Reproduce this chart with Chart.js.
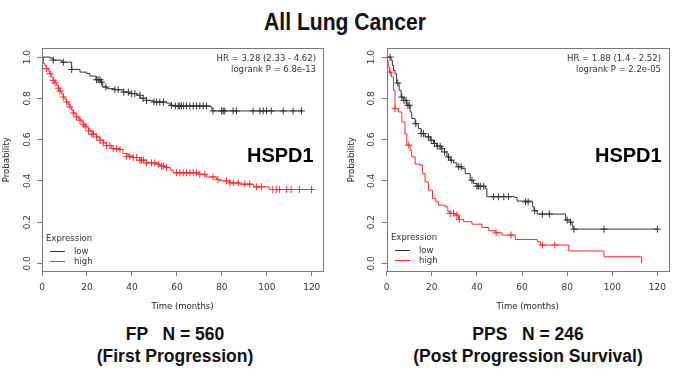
<!DOCTYPE html>
<html>
<head>
<meta charset="utf-8">
<script src="https://cdn.jsdelivr.net/npm/chart.js@4.4.1/dist/chart.umd.min.js"></script>
<style>
  html, body { margin: 0; padding: 0; background: #fff; }
  #page { position: relative; width: 690px; height: 380px; overflow: hidden; font-family: "DejaVu Sans", sans-serif; color: #222; }
  .panel { position: absolute; top: 40px; height: 280px; }
  .c { position: absolute; white-space: pre; line-height: 1; transform: translate(-50%, -50%); }
  .l { position: absolute; white-space: pre; line-height: 1; transform: translate(0, -50%); }
  .r { position: absolute; white-space: pre; line-height: 11px; text-align: right; font-size: 8.5px; color: #333; }
  .big { font-family: "Liberation Sans", Arial, sans-serif; font-weight: bold; font-size: 17.5px; color: #111; }
  .gene { font-family: "Liberation Sans", Arial, sans-serif; font-weight: bold; font-size: 20px; color: #000; }
  .leg { font-size: 8.5px; color: #333; }
</style>
</head>
<body>
<div id="page">
  <div class="c" style="left:345px;top:22px;font-family:'Liberation Sans',sans-serif;font-weight:bold;font-size:24px;color:#111;transform:translate(-50%,-50%) scaleX(0.88);">All Lung Cancer</div>

  <div class="panel" style="left:0;width:340px;"><canvas id="fp" width="340" height="280"></canvas></div>
  <div class="panel" style="left:345px;width:345px;"><canvas id="pps" width="345" height="280"></canvas></div>

  <div class="r" style="right:374px;top:53px;">HR = 3.28 (2.33 - 4.62)
logrank P = 6.8e-13</div>
  <div class="r" style="right:29px;top:53px;">HR = 1.88 (1.4 - 2.52)
logrank P = 2.2e-05</div>

  <div class="l gene" style="left:247px;top:155px;">HSPD1</div>
  <div class="l gene" style="left:595px;top:155px;">HSPD1</div>

  <div class="l leg" style="left:46px;top:238px;">Expression</div>
  <div class="l leg" style="left:74px;top:251px;">low</div>
  <div class="l leg" style="left:74px;top:261px;">high</div>

  <div class="l leg" style="left:391px;top:237px;">Expression</div>
  <div class="l leg" style="left:419px;top:250px;">low</div>
  <div class="l leg" style="left:419px;top:260px;">high</div>

  <div class="c big" style="left:175px;top:335px;">FP   N = 560</div>
  <div class="c big" style="left:175px;top:357px;">(First Progression)</div>
  <div class="c big" style="left:528px;top:335px;">PPS   N = 246</div>
  <div class="c big" style="left:528px;top:357px;">(Post Progression Survival)</div>
</div>

<script>
const xTicks = [0, 20, 40, 60, 80, 100, 120];
const yTicks = [0, 0.2, 0.4, 0.6, 0.8, 1.0];

// FP, low expression (Kaplan-Meier knots: time, survival after the step)
const fpLowTime = [0, 3.6, 5, 8.9, 13.2, 16.9, 19.9, 21.3, 24, 26, 27, 29, 32.4, 36, 39, 42, 43.6, 46.5, 49.5, 55.4, 57, 58.4, 75, 75.6, 116];
const fpLowSurv = [1.0, 0.995, 0.985, 0.975, 0.94, 0.927, 0.92, 0.908, 0.89, 0.879, 0.855, 0.847, 0.842, 0.83, 0.823, 0.815, 0.8, 0.79, 0.782, 0.777, 0.766, 0.763, 0.758, 0.739, 0.739];
const fpLowCensTime = [5, 9.5, 13.2, 24.3, 25, 25.8, 26.5, 28.4, 32.4, 33.9, 36.4, 38.4, 39.9, 41.3, 43.6, 45, 46.5, 49.8, 51, 52.4, 54, 57.6, 59.3, 60.6, 61.3, 62, 63, 64.3, 65.8, 67.3, 68.7, 70.2, 71.7, 73.2, 76.1, 79.9, 80.6, 81.3, 85, 86.5, 93.9, 96.9, 98.4, 99.9, 102, 107.3, 111.7, 115.4];
const fpLowCensSurv = [0.985, 0.975, 0.94, 0.89, 0.89, 0.89, 0.879, 0.855, 0.842, 0.842, 0.83, 0.83, 0.823, 0.823, 0.815, 0.8, 0.79, 0.782, 0.782, 0.782, 0.782, 0.766, 0.763, 0.763, 0.763, 0.763, 0.763, 0.763, 0.763, 0.763, 0.763, 0.763, 0.763, 0.763, 0.739, 0.739, 0.739, 0.739, 0.739, 0.739, 0.739, 0.739, 0.739, 0.739, 0.739, 0.739, 0.739, 0.739];

// FP, high expression
const fpHighTime = [0, 0.6, 1.3, 2, 2.8, 3.6, 4.3, 5, 5.8, 6.5, 7.3, 8, 8.8, 9.5, 10.3, 11, 11.7, 12.4, 13.2, 13.9, 14.7, 15.4, 16.2, 16.9, 17.7, 18.4, 19.2, 19.9, 21.3, 22.8, 24.3, 25.8, 27.3, 28.7, 31, 34.7, 36, 38.4, 40.6, 43.6, 46.5, 51, 52.4, 55.4, 57, 58.4, 70, 73, 77.6, 79, 83.6, 88, 94, 101, 120.6];
const fpHighSurv = [1.0, 0.968, 0.956, 0.944, 0.932, 0.919, 0.903, 0.887, 0.875, 0.863, 0.849, 0.835, 0.82, 0.806, 0.794, 0.782, 0.77, 0.758, 0.743, 0.729, 0.72, 0.71, 0.702, 0.694, 0.684, 0.674, 0.665, 0.656, 0.642, 0.626, 0.613, 0.597, 0.584, 0.571, 0.556, 0.552, 0.532, 0.519, 0.513, 0.5, 0.487, 0.48, 0.471, 0.465, 0.452, 0.439, 0.432, 0.419, 0.406, 0.4, 0.39, 0.384, 0.371, 0.358, 0.358];
const fpHighCensTime = [2, 3.6, 5, 5.8, 7.3, 8, 9.5, 11, 12.4, 13.9, 15.4, 16.9, 18.4, 19.2, 20.7, 22.2, 22.8, 24.3, 25.8, 27.3, 28.7, 30.2, 31.7, 33.2, 34.7, 37.7, 39.1, 40.6, 42.1, 43.6, 44.3, 45.1, 46.5, 48.7, 50.2, 51.7, 53.2, 54, 55.4, 59.8, 61.3, 62.8, 64.3, 65.8, 67.3, 68.7, 70.2, 72.4, 76.1, 78.3, 82.1, 83.6, 85.1, 87.3, 90.2, 92.4, 95.4, 97.6, 102.7, 104.2, 105.7, 108.7, 110.8, 114.5, 119.9];
const fpHighCensSurv = [0.944, 0.919, 0.887, 0.875, 0.849, 0.835, 0.806, 0.782, 0.758, 0.729, 0.71, 0.694, 0.674, 0.665, 0.642, 0.626, 0.626, 0.613, 0.597, 0.584, 0.571, 0.571, 0.556, 0.556, 0.552, 0.519, 0.519, 0.513, 0.513, 0.5, 0.5, 0.5, 0.487, 0.487, 0.487, 0.48, 0.471, 0.471, 0.465, 0.439, 0.439, 0.439, 0.439, 0.439, 0.439, 0.439, 0.432, 0.432, 0.419, 0.406, 0.4, 0.39, 0.39, 0.39, 0.384, 0.384, 0.371, 0.371, 0.358, 0.358, 0.358, 0.358, 0.358, 0.358, 0.358];

// PPS, low expression
const ppsLowTime = [0, 1.9, 2.5, 3, 3.7, 4.4, 5.5, 6.4, 7.4, 8.9, 10.4, 11.1, 12.6, 14, 15.3, 17, 19.3, 20.7, 22.2, 24.4, 25.6, 26.7, 28.1, 29.6, 31.1, 33.3, 34.8, 37, 38.5, 40, 43.7, 44.4, 57, 57.8, 64.4, 64.7, 65.3, 66.7, 79.3, 81.5, 82.2, 82.5, 120];
const ppsLowSurv = [1.0, 0.984, 0.96, 0.935, 0.919, 0.874, 0.839, 0.806, 0.79, 0.766, 0.734, 0.702, 0.677, 0.653, 0.629, 0.613, 0.597, 0.581, 0.568, 0.556, 0.54, 0.516, 0.5, 0.487, 0.468, 0.46, 0.435, 0.403, 0.387, 0.374, 0.363, 0.323, 0.319, 0.302, 0.298, 0.274, 0.255, 0.239, 0.21, 0.2, 0.185, 0.166, 0.166];
const ppsLowCensTime = [1.5, 4.9, 6.7, 7.7, 8.6, 9.4, 10, 12.9, 15.3, 16.3, 18.5, 19.7, 21.2, 22.4, 23.7, 24.4, 25.6, 27.4, 28.6, 31.9, 33, 37.8, 40, 40.7, 41.5, 43, 47.4, 49.6, 51.9, 54, 61.5, 62.7, 65.6, 69, 72.1, 80, 81.5, 83, 96.3, 120];
const ppsLowCensSurv = [1.0, 0.874, 0.806, 0.79, 0.79, 0.766, 0.766, 0.677, 0.629, 0.629, 0.613, 0.597, 0.581, 0.568, 0.568, 0.556, 0.54, 0.516, 0.5, 0.468, 0.468, 0.403, 0.374, 0.374, 0.374, 0.374, 0.323, 0.323, 0.323, 0.323, 0.298, 0.298, 0.255, 0.239, 0.239, 0.21, 0.2, 0.166, 0.166, 0.166];

// PPS, high expression
const ppsHighTime = [0, 0.3, 0.7, 1.2, 2.2, 3, 3.7, 5.2, 6.7, 8.1, 8.9, 10.4, 11.1, 12.6, 14.8, 15.9, 17, 18.5, 20.3, 21.8, 23, 25.9, 27.1, 28.6, 30.4, 31.9, 34.1, 37.8, 42.2, 45.2, 48.1, 51.1, 57, 66.7, 68.1, 80.7, 96.3, 113];
const ppsHighSurv = [1.0, 0.984, 0.952, 0.927, 0.903, 0.839, 0.75, 0.734, 0.685, 0.629, 0.573, 0.548, 0.516, 0.481, 0.476, 0.435, 0.395, 0.355, 0.315, 0.298, 0.282, 0.274, 0.25, 0.242, 0.234, 0.213, 0.202, 0.19, 0.174, 0.158, 0.148, 0.137, 0.116, 0.105, 0.089, 0.06, 0.032, 0.0];
const ppsHighCensTime = [1.5, 3.7, 9.8, 28.1, 29.6, 31.1, 32.2, 48.5, 55.1, 69, 74.5];
const ppsHighCensSurv = [0.927, 0.75, 0.573, 0.242, 0.242, 0.234, 0.213, 0.148, 0.137, 0.089, 0.089];

const LOW_COLOR = '#333333';
const HIGH_COLOR = '#ff2a2a';
const SMALL_FONT = { family: 'DejaVu Sans', size: 8.5 };

function pts(xs, ys) {
  return xs.map((x, i) => ({ x, y: ys[i] }));
}

// R-style frame, vertical y tick labels and legend line keys
const rStyle = {
  id: 'rStyle',
  afterDraw(chart, args, opts) {
    const { ctx, chartArea: a } = chart;
    const y = chart.scales.y;
    ctx.save();
    ctx.strokeStyle = '#777';
    ctx.lineWidth = 1;
    ctx.strokeRect(Math.round(a.left) + 0.5, Math.round(a.top) + 0.5, Math.round(a.right - a.left), Math.round(a.bottom - a.top));

    ctx.fillStyle = '#333';
    ctx.font = '9px "DejaVu Sans"';
    ctx.textAlign = 'center';
    ctx.textBaseline = 'middle';
    y.ticks.forEach(t => {
      ctx.save();
      ctx.translate(opts.labelX, y.getPixelForValue(t.value));
      ctx.rotate(-Math.PI / 2);
      ctx.fillText(t.value.toFixed(1), 0, 0);
      ctx.restore();
    });

    [LOW_COLOR, HIGH_COLOR].forEach((c, i) => {
      const ly = opts.keyY + i * 10 + 0.5;
      ctx.strokeStyle = c;
      ctx.beginPath();
      ctx.moveTo(opts.keyX, ly);
      ctx.lineTo(opts.keyX + 15, ly);
      ctx.stroke();
    });
    ctx.restore();
  }
};

function kmChart(id, d) {
  const curve = (data, color) => ({
    data, borderColor: color, borderWidth: 1, stepped: 'before',
    pointRadius: 0, fill: false,
  });
  const marks = (data, color) => ({
    data, borderColor: color, backgroundColor: color, borderWidth: 1, showLine: false,
    pointStyle: 'cross', pointRadius: 3.5, pointHoverRadius: 3.5,
  });

  return new Chart(document.getElementById(id), {
    type: 'line',
    data: {
      datasets: [
        curve(d.low, LOW_COLOR),
        marks(d.lowCens, LOW_COLOR),
        curve(d.high, HIGH_COLOR),
        marks(d.highCens, HIGH_COLOR),
      ]
    },
    plugins: [rStyle],
    options: {
      responsive: false, animation: false, devicePixelRatio: 1,
      layout: { padding: { left: 0, top: d.top, right: d.right, bottom: 0 } },
      plugins: {
        legend: { display: false }, tooltip: { enabled: false },
        rStyle: { labelX: d.labelX, keyX: 50, keyY: d.keyY },
      },
      scales: {
        x: {
          type: 'linear', min: 0, max: 125,
          afterBuildTicks: s => { s.ticks = xTicks.map(v => ({ value: v })); },
          afterFit: s => { s.height = 49; },
          ticks: { color: '#333', font: { family: 'DejaVu Sans', size: 9 }, padding: 6, maxRotation: 0, autoSkip: false },
          grid: { drawOnChartArea: false, tickLength: 5, color: '#777' },
          border: { display: false },
          title: { display: true, text: 'Time (months)', color: '#222', font: SMALL_FONT, padding: { top: 0, bottom: 8 } },
        },
        y: {
          type: 'linear', min: -0.037, max: 1.042,
          afterBuildTicks: s => { s.ticks = yTicks.map(v => ({ value: v })); },
          afterFit: s => { s.width = d.yWidth; },
          ticks: { color: 'rgba(0,0,0,0)', font: { family: 'DejaVu Sans', size: 9 } },
          grid: { drawOnChartArea: false, tickLength: 5, color: '#777' },
          border: { display: false },
          title: { display: true, text: 'Probability', color: '#222', font: SMALL_FONT, padding: { top: 2, bottom: 0 } },
        }
      }
    }
  });
}

kmChart('fp', {
  low: pts(fpLowTime, fpLowSurv), lowCens: pts(fpLowCensTime, fpLowCensSurv),
  high: pts(fpHighTime, fpHighSurv), highCens: pts(fpHighCensTime, fpHighCensSurv),
  top: 8, right: 17, yWidth: 42, labelX: 28, keyY: 211,
});
kmChart('pps', {
  low: pts(ppsLowTime, ppsLowSurv), lowCens: pts(ppsLowCensTime, ppsLowCensSurv),
  high: pts(ppsHighTime, ppsHighSurv), highCens: pts(ppsHighCensTime, ppsHighCensSurv),
  top: 6.7, right: 21.3, yWidth: 41.7, labelX: 26.7, keyY: 210,
});
</script>
</body>
</html>
